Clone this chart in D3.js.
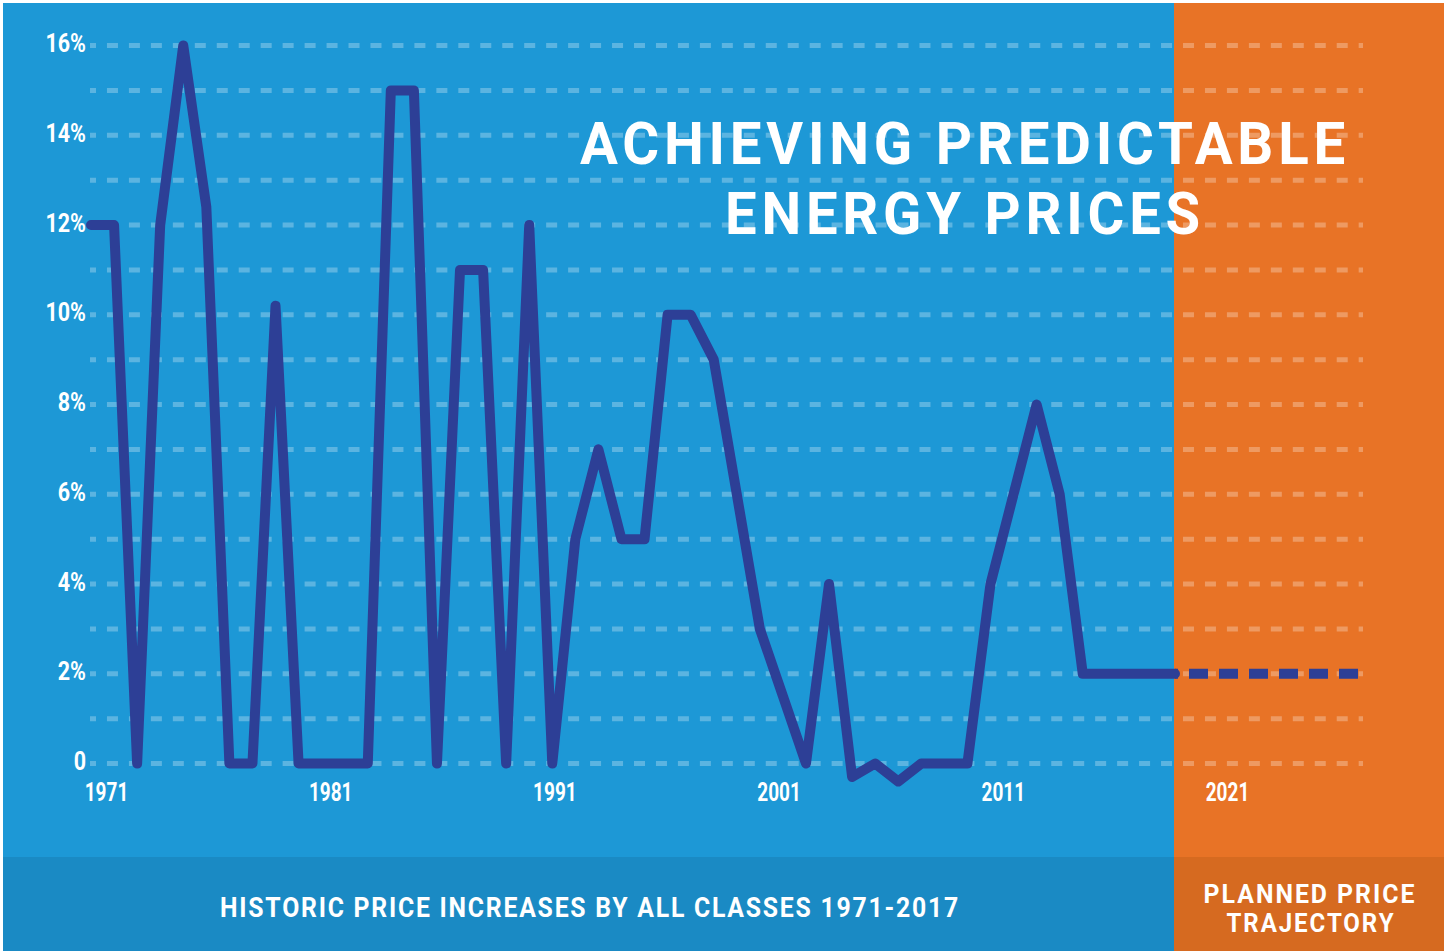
<!DOCTYPE html>
<html>
<head>
<meta charset="utf-8">
<script src="https://cdn.jsdelivr.net/npm/d3@7"></script>
<style>
    body { margin: 0; background: #ffffff; }
    svg text {
        font-family: "Roboto", "Liberation Sans", sans-serif;
        font-weight: bold;
        fill: #ffffff;
    }
</style>
</head>
<body>
<div class="chart"></div>
<script>
/// Data
var years = d3.range(1971, 2019);
var priceIncrease = [12, 12, 0, 12, 16, 12.4, 0, 0, 10.2, 0, 0, 0, 0, 15, 15, 0,
    11, 11, 0, 12, 0, 5, 7, 5, 5, 10, 10, 9, 6, 3, 1.5, 0, 4, -0.3, 0, -0.4,
    0, 0, 0, 4, 6, 8, 6, 2, 2, 2, 2, 2];
var plannedYears = [2018, 2026];
var plannedIncrease = [2, 2];
var yTicks = [0, 2, 4, 6, 8, 10, 12, 14, 16];
var gridValues = d3.range(0, 17);
var xTickYears = [1971, 1981, 1991, 2001, 2011, 2021];

/// SVG Wrapper Dimensions
var svgWidth = 1449;
var svgHeight = 951;

var svg = d3.select(".chart")
    .append("svg")
    .attr("width", svgWidth)
    .attr("height", svgHeight);

/// Background panels
svg.append("rect").attr("x", 3).attr("y", 3).attr("width", 1171).attr("height", 854).attr("fill", "#1d98d6");
svg.append("rect").attr("x", 1174).attr("y", 3).attr("width", 270).attr("height", 854).attr("fill", "#e87326");
svg.append("rect").attr("x", 3).attr("y", 857).attr("width", 1171).attr("height", 94).attr("fill", "#1a8ac4");
svg.append("rect").attr("x", 1174).attr("y", 857).attr("width", 270).attr("height", 94).attr("fill", "#d66a20");

/// Scales
var xScale = d3.scaleLinear().domain([1971, 2018]).range([91, 1175]);
var yScale = d3.scaleLinear().domain([0, 16]).range([763.5, 45.5]);
var xLabelScale = d3.scaleLinear().domain([1971, 2021]).range([106, 1227]);

/// squash text horizontally to mimic the condensed face
function squeeze(sel, factor) {
    sel.attr("transform", "scale(" + factor + ",1)");
}

/// centred text block squeezed to a given width
function fittedText(cx, y, size, spacing, width, label) {
    var g = svg.append("g");
    var t = g.append("text")
        .attr("x", 0)
        .attr("y", 0)
        .attr("text-anchor", "middle")
        .attr("font-size", size)
        .style("letter-spacing", spacing + "px")
        .text(label);
    var natural = t.node().getComputedTextLength();
    g.attr("transform", `translate(${cx}, ${y}) scale(${width / natural}, 1)`);
    return t;
}

/// Dashed grid lines, one per percent
svg.append("g")
    .selectAll("line")
    .data(gridValues)
    .enter()
    .append("line")
    .attr("x1", 90)
    .attr("x2", 1363)
    .attr("y1", d => yScale(d))
    .attr("y2", d => yScale(d))
    .attr("stroke", "#ffffff")
    .attr("stroke-opacity", 0.28)
    .attr("stroke-width", 5)
    .attr("stroke-dasharray", "11,10.96")
    .attr("stroke-dashoffset", 5);

/// Y axis labels
var leftAxis = d3.axisLeft(yScale)
    .tickValues(yTicks)
    .tickSize(0)
    .tickPadding(0)
    .tickFormat(d => d === 0 ? "0" : d + "%");

var yAxis = svg.append("g")
    .attr("transform", "translate(86, -2)")
    .call(leftAxis);
yAxis.select(".domain").remove();
yAxis.selectAll("text")
    .attr("font-size", 25)
    .attr("fill", "#ffffff")
    .style("font-family", null)
    .call(squeeze, 0.86);

/// X axis labels
var bottomAxis = d3.axisBottom(xLabelScale)
    .tickValues(xTickYears)
    .tickSize(0)
    .tickPadding(0)
    .tickFormat(d3.format("d"));

var xAxis = svg.append("g")
    .attr("transform", "translate(0, 783)")
    .call(bottomAxis);
xAxis.select(".domain").remove();
xAxis.selectAll("text")
    .attr("font-size", 25)
    .attr("fill", "#ffffff")
    .attr("dy", "0.71em")
    .style("font-family", null)
    .call(squeeze, 0.76);

/// Historic line
var line = d3.line()
    .x(d => xScale(d[0]))
    .y(d => yScale(d[1]));

svg.append("path")
    .datum(d3.zip(years, priceIncrease))
    .attr("d", line)
    .attr("fill", "none")
    .attr("stroke", "#2d3f96")
    .attr("stroke-width", 10)
    .attr("stroke-linejoin", "round")
    .attr("stroke-linecap", "round");

/// Planned trajectory, dashed
var plannedScale = d3.scaleLinear().domain([2018, 2026]).range([1175, 1359]);
var plannedLine = d3.line()
    .x(d => plannedScale(d[0]))
    .y(d => yScale(d[1]));

svg.append("path")
    .datum(d3.zip(plannedYears, plannedIncrease))
    .attr("d", plannedLine)
    .attr("fill", "none")
    .attr("stroke", "#2d3f96")
    .attr("stroke-width", 10)
    .attr("stroke-dasharray", "19,11")
    .attr("stroke-dashoffset", 16);

/// Title
fittedText(965, 164, 59, 5, 770, "ACHIEVING PREDICTABLE");
fittedText(965, 234, 59, 5, 480, "ENERGY PRICES");

/// Bottom band captions
fittedText(590, 917, 28, 2, 740, "HISTORIC PRICE INCREASES BY ALL CLASSES 1971-2017");
fittedText(1310, 903, 25, 2, 213, "PLANNED PRICE");
fittedText(1311, 932, 25, 2, 169, "TRAJECTORY");
</script>
</body>
</html>
